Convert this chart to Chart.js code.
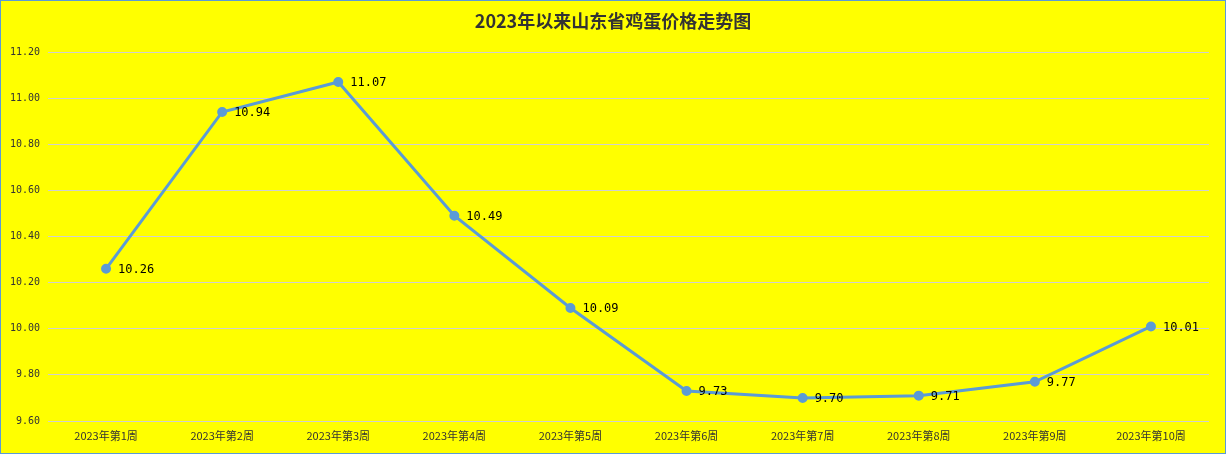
<!DOCTYPE html>
<html>
<head>
<meta charset="utf-8">
<script src="https://cdn.jsdelivr.net/npm/chart.js@4/dist/chart.umd.min.js"></script>
<style>
  html, body { margin: 0; padding: 0; background: #ffff00; }
  #wrap { width: 1224px; height: 452px; border: 1px solid #5b9bd5; background: #ffff00; }
</style>
</head>
<body>
<div id="wrap"><canvas id="chart" width="1224" height="452"></canvas></div>
<script>
// weekly egg prices in Shandong
const weeks = ['2023年第1周', '2023年第2周', '2023年第3周', '2023年第4周', '2023年第5周',
  '2023年第6周', '2023年第7周', '2023年第8周', '2023年第9周', '2023年第10周'];
const prices = [10.26, 10.94, 11.07, 10.49, 10.09, 9.73, 9.70, 9.71, 9.77, 10.01];
const yTicks = [9.6, 9.8, 10.0, 10.2, 10.4, 10.6, 10.8, 11.0, 11.2];
const titleText = '2023年以来山东省鸡蛋价格走势图';

// title drawn by hand so the plot area stays where we want it
const titlePlugin = {
  id: 'titleText',
  afterDraw(chart) {
    const ctx = chart.ctx;
    ctx.save();
    ctx.font = '600 18px "Noto Sans CJK SC", sans-serif';
    ctx.fillStyle = '#333';
    ctx.textAlign = 'center';
    ctx.textBaseline = 'middle';
    ctx.fillText(titleText, chart.width / 2, 20);
    ctx.restore();
  }
};

// value labels to the right of each point
const valueLabels = {
  id: 'valueLabels',
  afterDatasetsDraw(chart) {
    const ctx = chart.ctx;
    const meta = chart.getDatasetMeta(0);
    ctx.save();
    ctx.font = '12px "DejaVu Sans Mono", monospace';
    ctx.fillStyle = '#000';
    ctx.textAlign = 'left';
    ctx.textBaseline = 'middle';
    meta.data.forEach((pt, i) => {
      ctx.fillText(prices[i].toFixed(2), pt.x + 12, pt.y + 1);
    });
    ctx.restore();
  }
};

new Chart(document.getElementById('chart'), {
  type: 'line',
  data: {
    labels: weeks,
    datasets: [{
      data: prices,
      borderColor: '#5b9bd5',
      backgroundColor: '#5b9bd5',
      borderWidth: 3,
      pointRadius: 3.5,
      pointHoverRadius: 3.5,
      tension: 0,
      fill: false
    }]
  },
  options: {
    responsive: false,
    animation: false,
    layout: { padding: { top: 51, right: 16, left: 0, bottom: 0 } },
    plugins: {
      legend: { display: false },
      tooltip: { enabled: false }
    },
    scales: {
      x: {
        offset: true,
        grid: { display: false, drawTicks: false },
        border: { display: false },
        ticks: {
          color: '#333',
          font: { size: 11, family: '"Noto Sans CJK SC", sans-serif' },
          padding: 8,
          maxRotation: 0,
          autoSkip: false
        },
        afterFit(scale) { scale.height = 32; }
      },
      y: {
        min: 9.6,
        max: 11.2,
        afterBuildTicks(scale) { scale.ticks = yTicks.map(v => ({ value: v })); },
        grid: { color: '#d0d0d0', drawTicks: false },
        border: { display: false },
        ticks: {
          color: '#333',
          font: { size: 10, family: '"DejaVu Sans Mono", monospace' },
          padding: 8,
          callback: v => v.toFixed(2)
        },
        afterFit(scale) { scale.width = 47; }
      }
    }
  },
  plugins: [titlePlugin, valueLabels]
});
</script>
</body>
</html>
